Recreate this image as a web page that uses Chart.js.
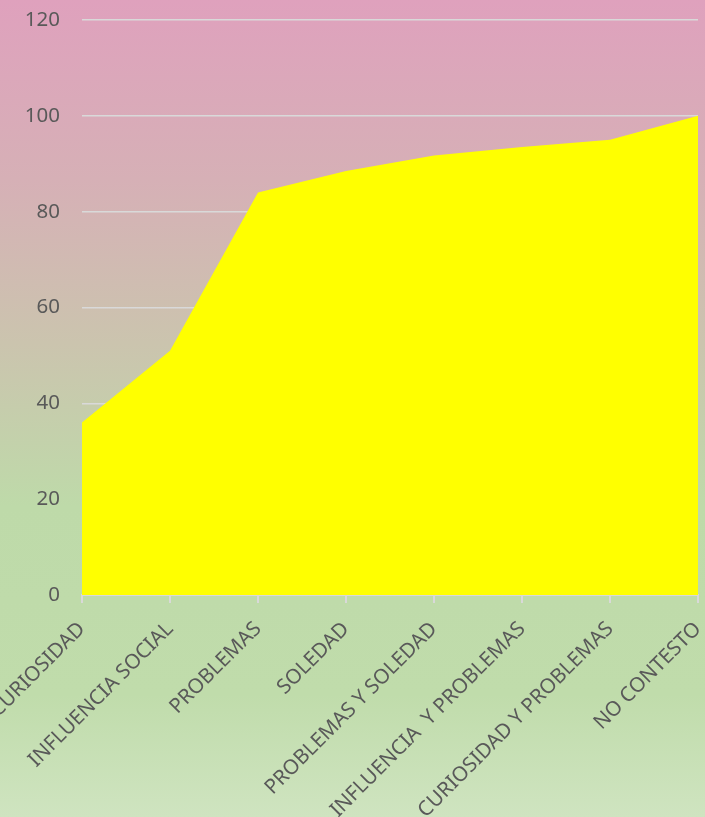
<!DOCTYPE html>
<html>
<head>
<meta charset="utf-8">
<script src="https://cdn.jsdelivr.net/npm/chart.js@4.4.1/dist/chart.umd.min.js"></script>
<style>
  html, body { margin: 0; padding: 0; }
  #wrap { width: 705px; height: 817px; }
</style>
</head>
<body>
<div id="wrap"><canvas id="areaChart" width="705" height="817"></canvas></div>
<script>
// datos del grafico (porcentaje acumulado)
var categorias = ['CURIOSIDAD', 'INFLUENCIA SOCIAL', 'PROBLEMAS', 'SOLEDAD',
  'PROBLEMAS Y SOLEDAD', 'INFLUENCIA  Y PROBLEMAS', 'CURIOSIDAD Y PROBLEMAS', 'NO CONTESTO'];
var valores = [36, 51, 84, 88.5, 91.7, 93.5, 95, 100];
var ejeY = { min: 0, max: 120, paso: 20 };

// fondo degradado rosa -> verde
var fondo = {
  id: 'fondo',
  beforeDraw: function (chart) {
    var c = chart.ctx;
    var g = c.createLinearGradient(0, 0, 0, chart.height);
    g.addColorStop(0, '#dfa1bd');
    g.addColorStop(0.22, '#d6b0b6');
    g.addColorStop(0.42, '#cbc4ae');
    g.addColorStop(0.62, '#bedaa9');
    g.addColorStop(0.85, '#c0dcab');
    g.addColorStop(1, '#cfe4c0');
    c.save();
    c.fillStyle = g;
    c.fillRect(0, 0, chart.width, chart.height);
    c.restore();
  }
};

var ctx = document.getElementById('areaChart').getContext('2d');
var grafico = new Chart(ctx, {
  type: 'line',
  data: {
    labels: categorias,
    datasets: [{
      data: valores,
      fill: 'origin',
      backgroundColor: '#ffff00',
      borderWidth: 0,
      pointRadius: 0,
      tension: 0
    }]
  },
  options: {
    responsive: false,
    animation: false,
    layout: { padding: { top: 20, right: 7, left: 0, bottom: 0 } },
    plugins: {
      legend: { display: false },
      tooltip: { enabled: false }
    },
    scales: {
      x: {
        offset: false,
        z: 1,
        grid: { drawOnChartArea: false, drawTicks: true, tickLength: 8, color: '#d9d9d9', lineWidth: 2 },
        border: { color: '#d9d9d9', width: 2 },
        ticks: {
          autoSkip: false,
          maxRotation: 45,
          minRotation: 45,
          padding: 14,
          color: '#595959',
          font: { family: 'Noto Sans', size: 20.5 }
        },
        afterFit: function (scale) {
          scale.height = 222;
          scale.paddingLeft = 0;
          scale.paddingRight = 0;
        }
      },
      y: {
        min: ejeY.min,
        max: ejeY.max,
        grid: { color: '#d9d9d9', lineWidth: 1.5, drawTicks: false },
        border: { display: false },
        ticks: {
          stepSize: ejeY.paso,
          padding: 22,
          color: '#595959',
          font: { family: 'Noto Sans', size: 20.5 }
        },
        afterFit: function (scale) {
          scale.width = 82;
          scale.paddingTop = 0;
          scale.paddingBottom = 0;
        }
      }
    }
  },
  plugins: [fondo]
});
</script>
</body>
</html>
